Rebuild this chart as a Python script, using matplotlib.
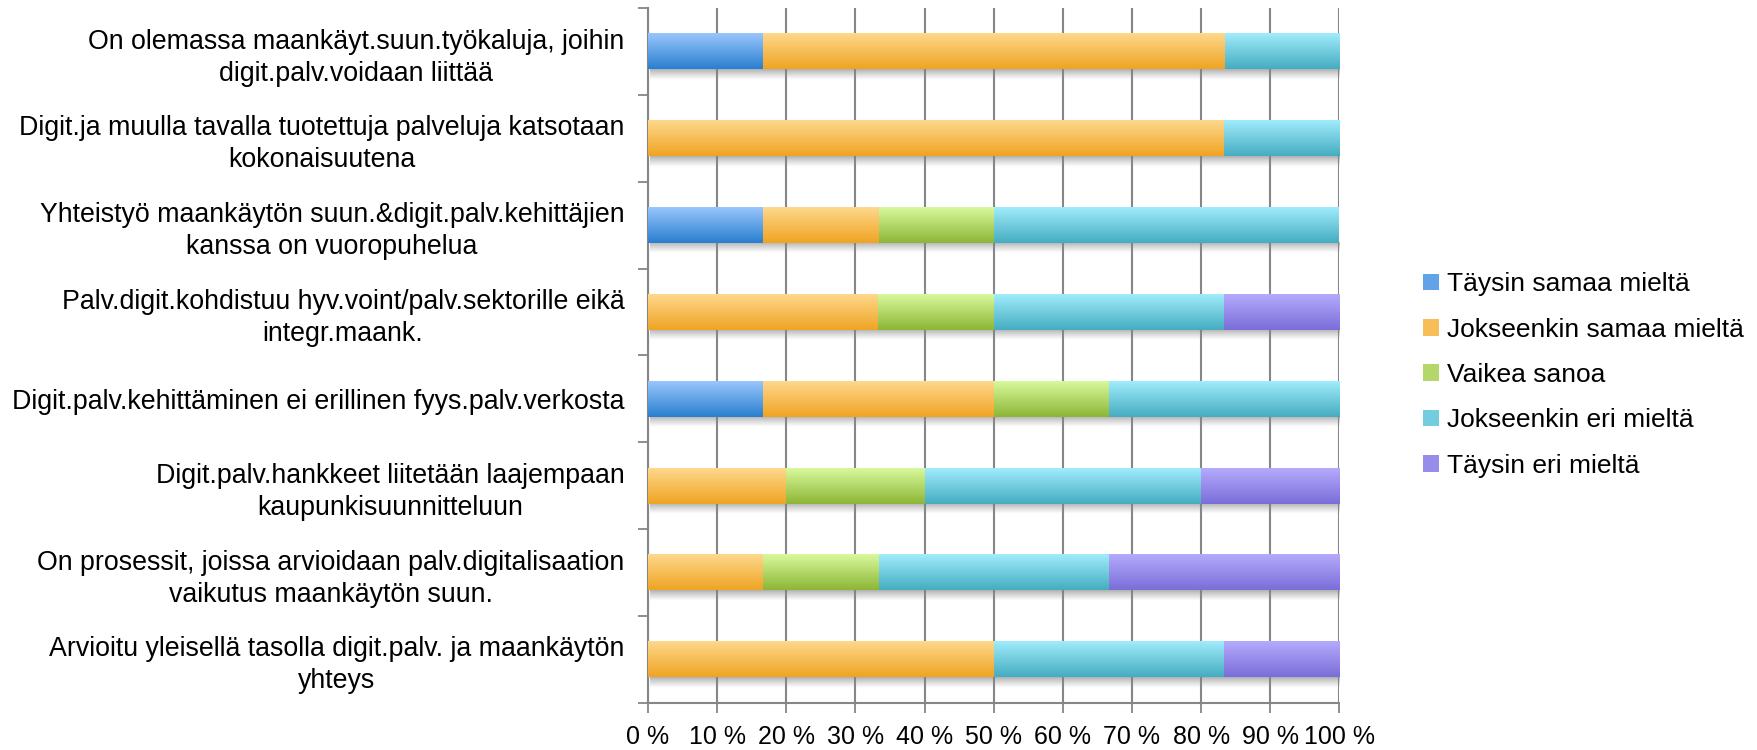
"""Stacked 100 % bar chart of survey answers (digitalisation vs land-use planning)."""

import matplotlib
matplotlib.use("Agg")
import matplotlib.pyplot as plt
import numpy as np
from matplotlib.colors import LinearSegmentedColormap, to_rgb
from matplotlib.patches import Patch

plt.rcParams["font.family"] = ["Liberation Sans", "DejaVu Sans"]

categories = [
    "On olemassa maankäyt.suun.työkaluja, joihin\ndigit.palv.voidaan liittää",
    "Digit.ja muulla tavalla tuotettuja palveluja katsotaan\nkokonaisuutena",
    "Yhteistyö maankäytön suun.&digit.palv.kehittäjien\nkanssa on vuoropuhelua",
    "Palv.digit.kohdistuu hyv.voint/palv.sektorille eikä\nintegr.maank.",
    "Digit.palv.kehittäminen ei erillinen fyys.palv.verkosta",
    "Digit.palv.hankkeet liitetään laajempaan\nkaupunkisuunnitteluun",
    "On prosessit, joissa arvioidaan palv.digitalisaation\nvaikutus maankäytön suun.",
    "Arvioitu yleisellä tasolla digit.palv. ja maankäytön\nyhteys",
]
series = [
    "Täysin samaa mieltä",
    "Jokseenkin samaa mieltä",
    "Vaikea sanoa",
    "Jokseenkin eri mieltä",
    "Täysin eri mieltä",
]
taysin_samaa = [16.7, 0, 16.7, 0, 16.7, 0, 0, 0]
jokseenkin_samaa = [66.7, 83.3, 16.7, 33.3, 33.3, 20, 16.7, 50]
vaikea_sanoa = [0, 0, 16.7, 16.7, 16.7, 20, 16.7, 0]
jokseenkin_eri = [16.7, 16.7, 50, 33.3, 33.3, 40, 33.3, 33.3]
taysin_eri = [0, 0, 0, 16.7, 0, 20, 33.3, 16.7]
values = [taysin_samaa, jokseenkin_samaa, vaikea_sanoa, jokseenkin_eri, taysin_eri]
xticks = [0, 10, 20, 30, 40, 50, 60, 70, 80, 90, 100]

# (top, bottom) gradient colours like the office chart style
gradients = [
    ("#98c6fc", "#2a7fd0"),
    ("#fed88c", "#efa423"),
    ("#d8f99c", "#8db636"),
    ("#a0ecfc", "#45adc0"),
    ("#b4aafc", "#7a6ed8"),
]

fig = plt.figure(figsize=(17.57, 7.5), dpi=100)
ax = fig.add_axes([0.3688, 0.063, 0.3935, 0.926])

n = len(categories)
ypos = np.arange(n)[::-1]
height = 0.41
left = np.zeros(n)

# soft shadow under each bar
shadow_cmap = LinearSegmentedColormap.from_list(
    "shadow", [(0.6, 0.6, 0.6, 0.0), (0.5, 0.5, 0.5, 0.6)]
)
total = np.sum(values, axis=0)
for y, tot in zip(ypos, total):
    ax.imshow(
        np.linspace(0, 1, 20).reshape(-1, 1),
        extent=(0.3, min(tot, 100) + 0.4, y - height / 2 - 0.12, y - height / 2),
        origin="lower", cmap=shadow_cmap, aspect="auto", zorder=2,
    )

for vals, (top, bottom), name in zip(values, gradients, series):
    bars = ax.barh(ypos, vals, height=height, left=left, color="none", edgecolor="none", zorder=3)
    cmap = LinearSegmentedColormap.from_list(name, [bottom, top])
    for patch in bars:
        w = patch.get_width()
        if w <= 0:
            continue
        x0 = patch.get_x()
        y0 = patch.get_y()
        ax.imshow(
            np.linspace(0, 1, 64).reshape(-1, 1),
            extent=(x0, x0 + w, y0, y0 + patch.get_height()),
            origin="lower", cmap=cmap, aspect="auto", zorder=3,
        )
    left = left + np.array(vals)

ax.set_xlim(0, 100)
ax.set_ylim(-0.5, n - 0.5)
ax.set_xticks(xticks)
ax.set_xticklabels([f"{t} %" for t in xticks], fontsize=18)
ax.set_yticks(ypos)
ax.set_yticklabels(categories, fontsize=19.3, linespacing=1.3)
for lab in ax.get_yticklabels():
    lab.set_multialignment("center")
ax.set_yticks(np.arange(n + 1) - 0.5, minor=True)
ax.tick_params(axis="y", which="major", length=0, pad=17)
ax.tick_params(axis="y", which="minor", length=7, width=1.3, color="#868686")
ax.tick_params(axis="x", length=7, width=1.3, color="#868686", pad=9)

ax.grid(axis="x", color="#868686", linewidth=1.5, zorder=1)
ax.set_axisbelow(True)
for side in ("top", "right"):
    ax.spines[side].set_visible(False)
for side in ("left", "bottom"):
    ax.spines[side].set_color("#868686")
    ax.spines[side].set_linewidth(1.5)

# legend squares get the average of the gradient
handles = [
    Patch(facecolor=tuple((np.array(to_rgb(t)) + np.array(to_rgb(b))) / 2), edgecolor="none")
    for (t, b) in gradients
]
fig.legend(
    handles, series, loc="center left", bbox_to_anchor=(0.7965, 0.5),
    frameon=False, fontsize=19, handlelength=0.6, handleheight=0.6,
    handletextpad=0.3, labelspacing=0.81,
)

fig.savefig("out.png", dpi=100)
